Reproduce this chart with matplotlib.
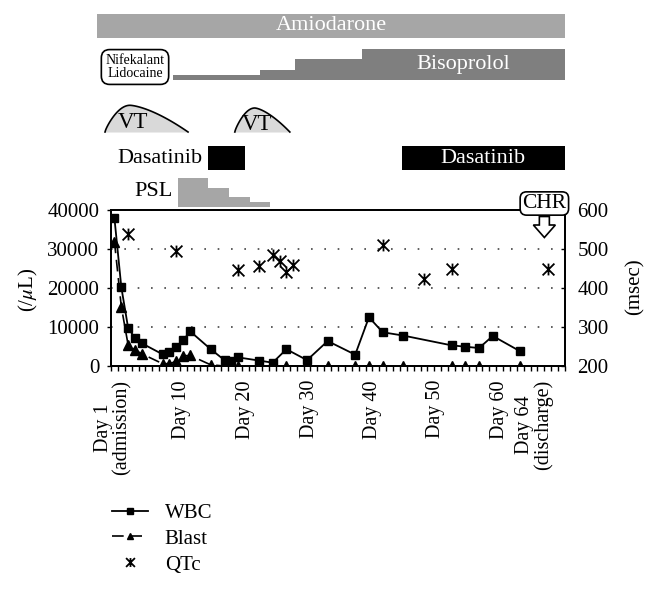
import numpy as np
import matplotlib
matplotlib.use("Agg")
import matplotlib.pyplot as plt
import matplotlib.transforms as mtransforms
from matplotlib.patches import Rectangle, Polygon
from matplotlib.path import Path

plt.rcParams['font.family'] = ['Liberation Serif', 'DejaVu Serif']
plt.rcParams['mathtext.fontset'] = 'stix'

W, H = 658, 591

# laboratory values (hospital day -> value)
wbc_days = [1, 2, 3, 4, 5, 8, 9, 10, 11, 12, 15, 17, 18, 19, 22, 24, 26, 29, 32,
            36, 38, 40, 43, 50, 52, 54, 56, 60]
wbc = [37900, 20200, 9650, 7200, 5800, 3000, 3500, 4800, 6600, 8900, 4300, 1500,
       1300, 2200, 1400, 850, 4300, 1500, 6400, 2900, 12500, 8650, 7800, 5300,
       4950, 4600, 7700, 3750]
blast_days = [1, 2, 3, 4, 5, 8, 9, 10, 11, 12, 15, 17, 18, 19, 22, 24, 26, 29, 32,
              36, 38, 40, 43, 50, 52, 54, 60]
blast = [31900, 15200, 5300, 4100, 3100, 600, 600, 1200, 2600, 2700, 300, 0,
         0, 0, 0, 0, 0, 0, 0, 0, 0, 0, 0, 0, 0, 0, 0]
qtc_days = [3, 10, 19, 22, 24, 25, 26, 27, 40, 46, 50, 64]
qtc = [538, 495, 445, 456, 485, 469, 441, 459, 510, 423, 448, 448]

# x tick labels (placed as in the original, not exactly on the days)
day_labels = ['Day 1\n(admission)', 'Day 10', 'Day 20', 'Day 30', 'Day 40',
              'Day 50', 'Day 60', 'Day 64\n(discharge)']
day_label_pos = [0.7, 10.8, 20.1, 29.4, 38.55, 47.7, 57.0, 62.0]

# treatments (day ranges)
amio = (-1.6, 66.5)
biso_edges = [9.55, 22.16, 27.24, 36.94, 66.5]
biso_dose = [0.625, 1.25, 2.5, 3.75]
psl_edges = [10.28, 14.64, 17.7, 20.7, 23.6]
psl_dose = [60, 40, 20, 10]
dasa = [(14.6, 20.0), (42.75, 66.5)]
vt_episodes = [(-0.37, 3.26, 11.7, 26.7), (18.5, 21.4, 26.5, 24.0)]
chr_day = 63.5

fig = plt.figure(figsize=(W / 100, H / 100), dpi=100)
ax = fig.add_axes([111 / W, 1 - 366 / H, 454 / W, 156 / H])
ax2 = ax.twinx()

ax.plot(wbc_days, wbc, '-', color='black', lw=1.3, marker='s', ms=6,
        label='WBC', zorder=3)
ax.plot(blast_days, blast, color='black', lw=1.2, ls=(0, (7, 4)), marker='^',
        ms=6.5, label='Blast', zorder=3)
star = Path([(-1, -1), (1, 1), (-1, 1), (1, -1), (0, -1), (0, 1)],
            [Path.MOVETO, Path.LINETO, Path.MOVETO, Path.LINETO, Path.MOVETO, Path.LINETO])
ax2.plot(qtc_days, qtc, ls='none', marker=star, ms=8.5, mew=1.3, color='black',
         label='QTc', zorder=3)

ax.set_xlim(0.5, 66.5)
ax.set_ylim(0, 40000)
ax2.set_ylim(200, 600)
ax.set_yticks([0, 10000, 20000, 30000, 40000])
ax2.set_yticks([200, 300, 400, 500, 600])
ax.set_xticks(np.arange(0.5, 67, 1))
ax.set_xticklabels([])
ax.tick_params(axis='x', direction='out', length=3.5, width=1)
ax.tick_params(axis='y', direction='out', length=3, width=1, labelsize=15, pad=5.5)
ax2.tick_params(axis='y', direction='in', length=3, width=1, labelsize=15, pad=9)
for a in (ax, ax2):
    for s in a.spines.values():
        s.set_linewidth(1.3)
ax.yaxis.grid(True, ls=(0, (1, 7)), lw=1.2, color='#444444')
ax.set_axisbelow(True)

xlab_tr = mtransforms.blended_transform_factory(ax.transData, ax.transAxes)
for lab, pos in zip(day_labels, day_label_pos):
    ax.text(pos, -0.09, lab, transform=xlab_tr,
            rotation=90, ha='center', va='top', multialignment='center',
            fontsize=14.5, linespacing=0.95)

fig.text(28 / W, 1 - 290 / H, '(/$\\mu$L)', rotation=90, ha='center', va='center', fontsize=15)
fig.text(635 / W, 1 - 287 / H, '(msec)', rotation=90, ha='center', va='center', fontsize=15)

# timeline above the chart: x in days, y in figure pixels from top
tr = mtransforms.blended_transform_factory(ax2.transData, fig.transFigure)


def fy(py):
    return 1 - py / H


def bar(x0, x1, top, bottom, color):
    ax2.add_patch(Rectangle((x0, fy(bottom)), x1 - x0, fy(top) - fy(bottom),
                            transform=tr, color=color, lw=0, clip_on=False))


bar(amio[0], amio[1], 14, 38.3, '#a6a6a6')
ax2.text(32.5, fy(26), 'Amiodarone', transform=tr, ha='center', va='center',
         color='white', fontsize=16, clip_on=False)

ax2.text(3.99, fy(67), 'Nifekalant\nLidocaine', transform=tr, ha='center', va='center',
         fontsize=10, linespacing=1.05, clip_on=False,
         bbox=dict(boxstyle='round,pad=0.3,rounding_size=0.6', fc='white', ec='black', lw=1.2))

for i, d in enumerate(biso_dose):
    bar(biso_edges[i], biso_edges[i + 1], 80 - d * 8.2, 80, '#7f7f7f')
ax2.text(51.7, fy(65), 'Bisoprolol', transform=tr, ha='center', va='center',
         color='white', fontsize=16, clip_on=False)

for s, p, e, h in vt_episodes:
    left = np.linspace(s, p, 40)
    right = np.linspace(p, e, 60)
    yl = np.sin(np.pi / 2 * (left - s) / (p - s)) ** 0.8
    yr = 1 - ((right - p) / (e - p)) ** 1.5
    xs = np.concatenate([left, right])
    ys = np.concatenate([yl, yr])
    base = 132
    yy = fy(base - ys * h)
    ax2.fill_between(xs, fy(base), yy, transform=tr, color='#d9d9d9', lw=0, clip_on=False)
    ax2.plot(xs, yy, transform=tr, color='black', lw=1.2, clip_on=False)
ax2.text(3.7, fy(122), 'VT', transform=tr, ha='center', va='center', fontsize=16.5, clip_on=False)
ax2.text(21.7, fy(125), 'VT', transform=tr, ha='center', va='center', fontsize=16.5, clip_on=False)

ax2.text(7.6, fy(158), 'Dasatinib', transform=tr, ha='center', va='center',
         fontsize=16, clip_on=False)
for x0, x1 in dasa:
    bar(x0, x1, 145.7, 170, 'black')
ax2.text(54.6, fy(158), 'Dasatinib', transform=tr, ha='center', va='center',
         color='white', fontsize=16, clip_on=False)

ax2.text(6.75, fy(191.5), 'PSL', transform=tr, ha='center', va='center',
         fontsize=16, clip_on=False)
for i, d in enumerate(psl_dose):
    bar(psl_edges[i], psl_edges[i + 1], 206.7 - d * 0.47, 206.7, '#a6a6a6')

# CHR box and hollow arrow
ax2.text(chr_day, fy(203.5), 'CHR', transform=tr, ha='center', va='center',
         fontsize=15.5, clip_on=False, zorder=10,
         bbox=dict(boxstyle='round,pad=0.1,rounding_size=0.3', fc='white', ec='black', lw=1.2))
ppd = 454 / 66
sw, hw = 5 / ppd, 11 / ppd
arrow = [(chr_day - sw, fy(216.5)), (chr_day + sw, fy(216.5)), (chr_day + sw, fy(225)),
         (chr_day + hw, fy(225)), (chr_day, fy(237.5)), (chr_day - hw, fy(225)),
         (chr_day - sw, fy(225))]
ax2.add_patch(Polygon(arrow, closed=True, transform=tr, fc='white', ec='black',
                      lw=1.2, clip_on=False, zorder=10))

handles = ax.get_legend_handles_labels()[0] + ax2.get_legend_handles_labels()[0]
fig.legend(handles, ['WBC', 'Blast', 'QTc'], loc='upper left',
           bbox_to_anchor=(0.141, 0.18), frameon=False, fontsize=15,
           handlelength=1.75, handletextpad=0.8, labelspacing=0.3, markerscale=0.75)

fig.savefig('out.png', dpi=100)
